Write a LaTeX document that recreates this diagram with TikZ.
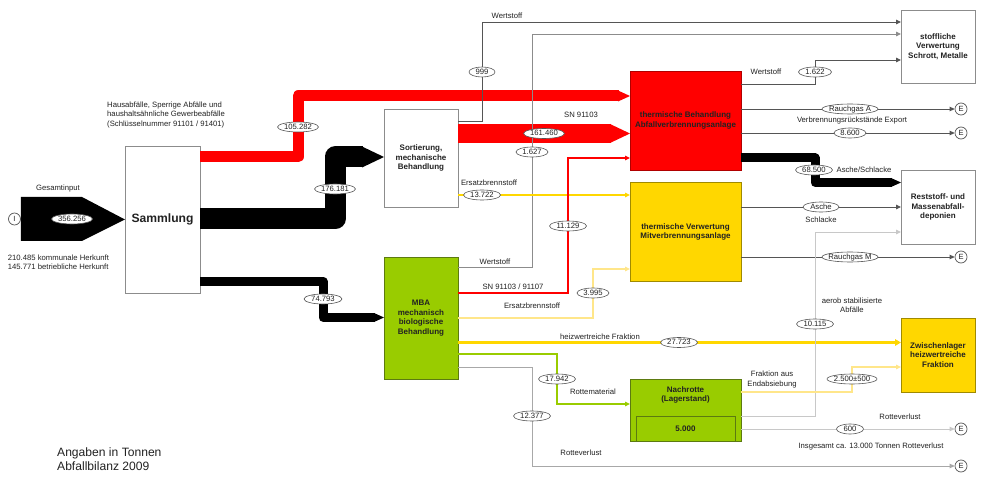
\documentclass[tikz,border=0pt]{standalone}
\usepackage{fontspec}
\setmainfont{Liberation Sans}
\usetikzlibrary{arrows.meta,shapes.geometric,calc}
\definecolor{cred}{HTML}{FF0000}
\definecolor{credb}{HTML}{B00000}
\definecolor{cyel}{HTML}{FFD700}
\definecolor{cyelb}{HTML}{A08A00}
\definecolor{clyel}{HTML}{FFE68A}
\definecolor{cgreen}{HTML}{99CC00}
\definecolor{cgreenb}{HTML}{5C7A10}
\definecolor{cdgray}{HTML}{555555}
\definecolor{cgray}{HTML}{8C8C8C}
\definecolor{cmgray}{HTML}{A8A8A8}
\definecolor{clgray}{HTML}{C8C8C8}
\definecolor{ctext}{HTML}{222222}
\begin{document}
\begin{tikzpicture}[x=1pt,y=-1pt,
  pbox/.style={draw=cgray, line width=0.8pt, inner sep=0pt, outer sep=0pt, align=center, text=ctext,
    font=\fontsize{8}{9.7}\selectfont\bfseries},
  ovl/.style={ellipse, draw=cdgray, fill=white, line width=0.6pt, inner xsep=-4pt, inner ysep=-2pt,
    minimum width=#1pt, minimum height=10pt,
    text height=5.5pt, text depth=0.8pt, font=\fontsize{7.7}{8}\selectfont, text=ctext},
  lbl/.style={font=\fontsize{7.7}{9.3}\selectfont, text=ctext, inner sep=0pt, align=center},
  endc/.style={circle, draw=cdgray, fill=white, line width=0.7pt, minimum size=12pt, inner sep=0pt,
    font=\fontsize{7.5}{8}\selectfont, text=ctext},
  conn/.style={line width=0.9pt, -{Triangle[length=5pt,width=4.5pt]}},
  fband/.style={line cap=butt, line join=round}
]
\fill[white] (0,0) rectangle (999,489);
\useasboundingbox (0,0) rectangle (999,489);

% ---- boxes ----
\node[pbox, minimum width=75pt, minimum height=147pt, font=\fontsize{12.1}{14}\selectfont\bfseries] (sam) at (162.5,219.5) {Sammlung};
\node[pbox, minimum width=74pt, minimum height=98pt] (sort) at (421,158) {Sortierung,\\mechanische\\Behandlung};
\node[pbox, fill=cgreen, draw=cgreenb, minimum width=74pt, minimum height=122pt] (mba) at (421,318) {MBA\\mechanisch\\biologische\\Behandlung};
\node[pbox, fill=cred, draw=credb, minimum width=111pt, minimum height=99pt] (avb) at (685.5,120.5) {thermische Behandlung\\Abfallverbrennungsanlage};
\node[pbox, fill=cyel, draw=cyelb, minimum width=111pt, minimum height=99pt] (mva) at (685.5,232) {thermische Verwertung\\Mitverbrennungsanlage};
\node[pbox, fill=cgreen, draw=cgreenb, minimum width=111pt, minimum height=62pt] (nach) at (685.5,410) {};
\node[pbox, fill=cgreen, draw=cgreenb, minimum width=99pt, minimum height=24.5pt] (nval) at (685.5,428.75) {5.000};
\node[pbox, draw=none, fill=none] (nacht) at (685.5,395) {Nachrotte\\(Lagerstand)};
\node[pbox, minimum width=74pt, minimum height=73pt] (stoff) at (938,46.5) {stoffliche\\Verwertung\\Schrott, Metalle};
\node[pbox, minimum width=74pt, minimum height=74pt] (rest) at (938,207) {Reststoff- und\\Massenabfall-\\deponien};
\node[pbox, fill=cyel, draw=cyelb, minimum width=74pt, minimum height=74pt] (zwl) at (938,355) {Zwischenlager\\heizwertreiche\\Fraktion};

\node[endc] (cin) at (14.5,219) {I};
\node[endc] (e1) at (961,109) {E};
\node[endc] (e2) at (961,133) {E};
\node[endc] (e3) at (961,257) {E};
\node[endc] (e4) at (961,429) {E};
\node[endc] (e5) at (961,466) {E};

% ---- input ----
\fill[black] (cin.east |- 0,197) -- (82,197) -- (sam.west) -- (82,241) -- (cin.east |- 0,241) -- cycle;

% ---- thick flows ----
\draw[fband, cred, line width=11pt] (sam.east |- 0,157) -- (298,157) -- (298,96) -- (618.5,96);
\fill[cred] (618,90.5) -- (avb.west |- 0,96) -- (618,101.5) -- cycle;

\draw[fband, black, line width=21pt] (sam.east |- 0,219) -- (335,219) -- (335,157) -- (362.5,157);
\fill[black] (362,146.5) -- (sort.west |- 0,157) -- (362,167.5) -- cycle;

\draw[fband, cred, line width=19pt] (sort.east |- 0,133.5) -- (610.5,133.5);
\fill[cred] (610,124) -- (avb.west |- 0,133.5) -- (610,143) -- cycle;

\draw[fband, black, line width=9pt] (sam.east |- 0,281.5) -- (323,281.5) -- (323,317.5) -- (374.5,317.5);
\fill[black] (374,313) -- (mba.west |- 0,317.5) -- (374,322) -- cycle;

\draw[fband, black, line width=9pt] (avb.east |- 0,158) -- (815,158) -- (815,182.5) -- (891.5,182.5);
\fill[black] (891,178) -- (rest.west |- 0,182.5) -- (891,187) -- cycle;

% ---- thin connectors ----
\draw[conn, cdgray] (sort.east |- 0,121) -- (482,121) -- (482,22) -- (stoff.west |- 0,22);
\draw[conn, cgray] (mba.east |- 0,267.5) -- (532,267.5) -- (532,34) -- (stoff.west |- 0,34);
\draw[conn, cdgray] (avb.east |- 0,84) -- (815,84) -- (815,60) -- (stoff.west |- 0,60);
\draw[conn, cdgray] (avb.east |- 0,109) -- (e1);
\draw[conn, cdgray] (avb.east |- 0,133) -- (e2);
\draw[conn, cyel, line width=1.8pt] (sort.east |- 0,195) -- (mva.west |- 0,195);
\draw[conn, cred, line width=1.2pt] (mba.east |- 0,293) -- (568,293) -- (568,158) -- (avb.west |- 0,158);
\draw[conn, clyel, line width=1.3pt] (mba.east |- 0,318) -- (593,318) -- (593,269) -- (mva.west |- 0,269);
\draw[cyel, line width=3pt, -{Triangle[length=6pt,width=6.5pt]}] (mba.east |- 0,342.5) -- (zwl.west |- 0,342.5);
\draw[conn, cgreen, line width=1.8pt] (mba.east |- 0,354) -- (557,354) -- (557,404) -- (nach.west |- 0,404);
\draw[conn, cmgray] (mba.east |- 0,367) -- (532,367) -- (532,466) -- (e5);
\draw[conn, cdgray] (mva.east |- 0,207) -- (rest.west |- 0,207);
\draw[conn, cdgray] (mva.east |- 0,257) -- (e3);
\draw[conn, clgray] (nach.east |- 0,416) -- (815,416) -- (815,232) -- (rest.west |- 0,232);
\draw[conn, clyel, line width=1.3pt] (nach.east |- 0,392) -- (852,392) -- (852,367) -- (zwl.west |- 0,367);
\draw[conn, clgray] (nach.east |- 0,429) -- (e4);

% ---- ovals ----
\node[ovl=41] (o1) at (72,219) {356.256};
\node[ovl=41] (o2) at (298,127) {105.282};
\node[ovl=41] (o3) at (335,189) {176.181};
\node[ovl=38] (o4) at (323,299) {74.793};
\node[ovl=26] (o5) at (482,72) {999};
\node[ovl=41] (o6) at (544,133.5) {161.460};
\node[ovl=32] (o7) at (532,152) {1.627};
\node[ovl=37] (o8) at (482,195) {13.722};
\node[ovl=37] (o9) at (568,226) {11.129};
\node[ovl=32] (o10) at (593,293) {3.995};
\node[ovl=37] (o11) at (679,342.5) {27.723};
\node[ovl=37] (o12) at (557,379) {17.942};
\node[ovl=37] (o13) at (532,416) {12.377};
\node[ovl=33] (o14) at (815,72) {1.622};
\node[ovl=56] (o15) at (850,109) {Rauchgas A};
\node[ovl=32] (o16) at (850,133) {8.600};
\node[ovl=37] (o17) at (814,170) {68.500};
\node[ovl=36] (o18) at (821,207) {Asche};
\node[ovl=56] (o19) at (850,257) {Rauchgas M};
\node[ovl=37] (o20) at (815,324) {10.115};
\node[ovl=50] (o21) at (852,379) {2.500±500};
\node[ovl=27] (o22) at (850,429) {600};

% ---- labels ----
\node[lbl] (l1) at (58,189) {Gesamtinput};
\node[lbl, anchor=west, align=left] (l2) at (7.7,262.5) {210.485 kommunale Herkunft\\145.771 betriebliche Herkunft};
\node[lbl, anchor=west, align=left] (l3) at (107,115) {Hausabfälle, Sperrige Abfälle und\\haushaltsähnliche Gewerbeabfälle\\(Schlüsselnummer 91101 / 91401)};
\node[lbl] (l4) at (507,16) {Wertstoff};
\node[lbl] (l5) at (581,115) {SN 91103};
\node[lbl] (l6) at (489,183) {Ersatzbrennstoff};
\node[lbl] (l7) at (495,262) {Wertstoff};
\node[lbl] (l8) at (513,287) {SN 91103 / 91107};
\node[lbl] (l9) at (532,306) {Ersatzbrennstoff};
\node[lbl] (l10) at (600,337) {heizwertreiche Fraktion};
\node[lbl] (l11) at (593,392) {Rottematerial};
\node[lbl] (l12) at (581,453) {Rotteverlust};
\node[lbl] (l13) at (766,72) {Wertstoff};
\node[lbl] (l14) at (852,121) {Verbrennungsrückstände Export};
\node[lbl] (l15) at (864,170) {Asche/Schlacke};
\node[lbl] (l16) at (821,220) {Schlacke};
\node[lbl] (l17) at (852,305.5) {aerob stabilisierte\\Abfälle};
\node[lbl] (l18) at (772,379.5) {Fraktion aus\\Endabsiebung};
\node[lbl] (l19) at (900,417) {Rotteverlust};
\node[lbl] (l20) at (871,447) {Insgesamt ca. 13.000 Tonnen Rotteverlust};
\node[lbl, anchor=west, align=left, font=\fontsize{12.1}{14.3}\selectfont] (l21) at (57,459.5) {Angaben in Tonnen\\Abfallbilanz 2009};
\end{tikzpicture}
\end{document}
